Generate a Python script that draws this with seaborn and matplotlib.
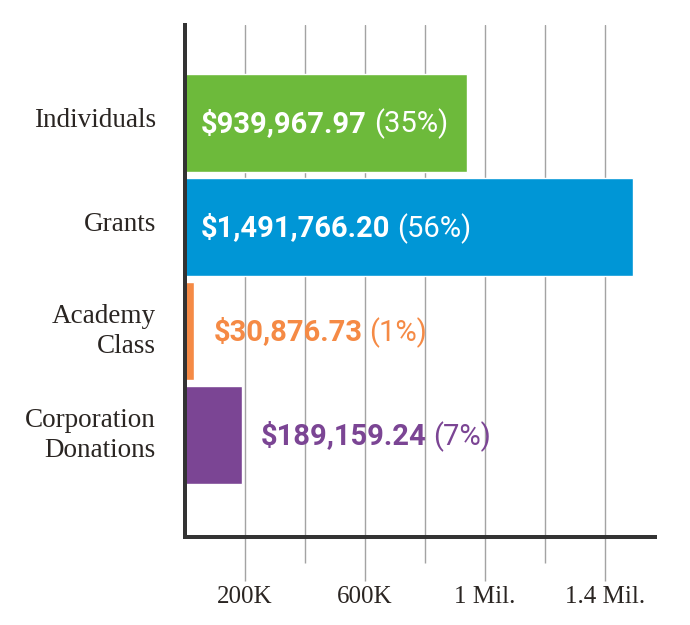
import numpy as np
import pandas as pd
import matplotlib
matplotlib.use('Agg')
import matplotlib.pyplot as plt
import matplotlib.transforms as mtransforms
import seaborn as sns

# ── Data ───────────────────────────────────────────────────────────────────────
CATEGORIES = ['Individuals', 'Grants', 'Academy\nClass', 'Corporation\nDonations']
AMOUNTS    = [939967.97, 1491766.20, 30876.73, 189159.24]
SHARES     = [35, 56, 1, 7]
COLORS     = ['#6dba3b', '#0096d6', '#f58a45', '#7b4594']

MAJOR_TICKS  = [200000, 600000, 1000000, 1400000]
MAJOR_LABELS = ['200K', '600K', '1 Mil.', '1.4 Mil.']
MINOR_TICKS  = [400000, 800000, 1200000]

# ── Style ──────────────────────────────────────────────────────────────────────
sns.set_theme(style='white')
plt.rcParams['font.family'] = ['Liberation Serif', 'DejaVu Serif']

DPI = 100
PX = 72 / DPI          # points per pixel
AXIS_C = '#333333'
GRID_C = '#a3a3a3'
TEXT_C = '#2a2522'

df = pd.DataFrame({'category': CATEGORIES, 'amount': AMOUNTS, 'share': SHARES})

fig = plt.figure(figsize=(6.9, 6.25), dpi=DPI)
ax = fig.add_axes([185 / 690, 1 - 537 / 625, 470 / 690, 512 / 625])

sns.barplot(data=df, x='amount', y='category', hue='category',
            palette=COLORS, order=CATEGORIES, hue_order=CATEGORIES,
            orient='h', width=0.94, saturation=1, legend=False,
            ax=ax, zorder=3)

ax.set_xlim(0, 1566667)
ax.set_ylim(3.98, -0.94)
ax.set_xlabel('')
ax.set_ylabel('')

# gridlines + long ticks that run below the axis
ax.set_xticks(MAJOR_TICKS)
ax.set_xticklabels(MAJOR_LABELS)
ax.set_xticks(MINOR_TICKS, minor=True)
ax.grid(axis='x', which='both', color=GRID_C, linewidth=1, zorder=0)
ax.set_axisbelow(True)
ax.tick_params(axis='x', which='major', bottom=True, length=44 * PX,
               width=1, color=GRID_C, pad=5 * PX, labelsize=18, labelcolor=TEXT_C)
ax.tick_params(axis='x', which='minor', bottom=True, length=26 * PX,
               width=1, color=GRID_C)
ax.tick_params(axis='y', left=False, length=0, pad=29 * PX,
               labelsize=19.5, labelcolor=TEXT_C)
lift = mtransforms.ScaledTranslation(0, 5 / DPI, fig.dpi_scale_trans)
for lbl in ax.get_yticklabels():
    lbl.set_linespacing(1.25)
    lbl.set_transform(lbl.get_transform() + lift)

for side in ['top', 'right']:
    ax.spines[side].set_visible(False)
for side in ['left', 'bottom']:
    ax.spines[side].set_color(AXIS_C)
    ax.spines[side].set_linewidth(4 * PX)
    ax.spines[side].set_zorder(5)

# ── Value labels ───────────────────────────────────────────────────────────────
value_font = ['Roboto', 'DejaVu Sans']
fig.canvas.draw()
renderer = fig.canvas.get_renderer()
inv = ax.transData.inverted()
for i, (amt, pct, col) in enumerate(zip(AMOUNTS, SHARES, COLORS)):
    inside = amt > 500000
    x0 = 0 if inside else amt
    off = 16 if inside else 19
    tc = 'white' if inside else col
    trans = mtransforms.offset_copy(ax.transData, fig=fig, x=off * PX, y=0, units='points')
    t = ax.text(x0, i - 0.02, f'${amt:,.2f}', transform=trans, color=tc,
                fontsize=21, fontweight='bold', family=value_font,
                va='center_baseline', ha='left', zorder=6)
    bb = t.get_window_extent(renderer=renderer)
    x1 = inv.transform((bb.x1, 0))[0]
    trans2 = mtransforms.offset_copy(ax.transData, fig=fig, x=7 * PX, y=0, units='points')
    ax.text(x1, i - 0.02, f'({pct}%)', transform=trans2, color=tc,
            fontsize=21, fontweight='normal', family=value_font,
            va='center_baseline', ha='left', zorder=6)

fig.savefig('out.png', dpi=DPI)
